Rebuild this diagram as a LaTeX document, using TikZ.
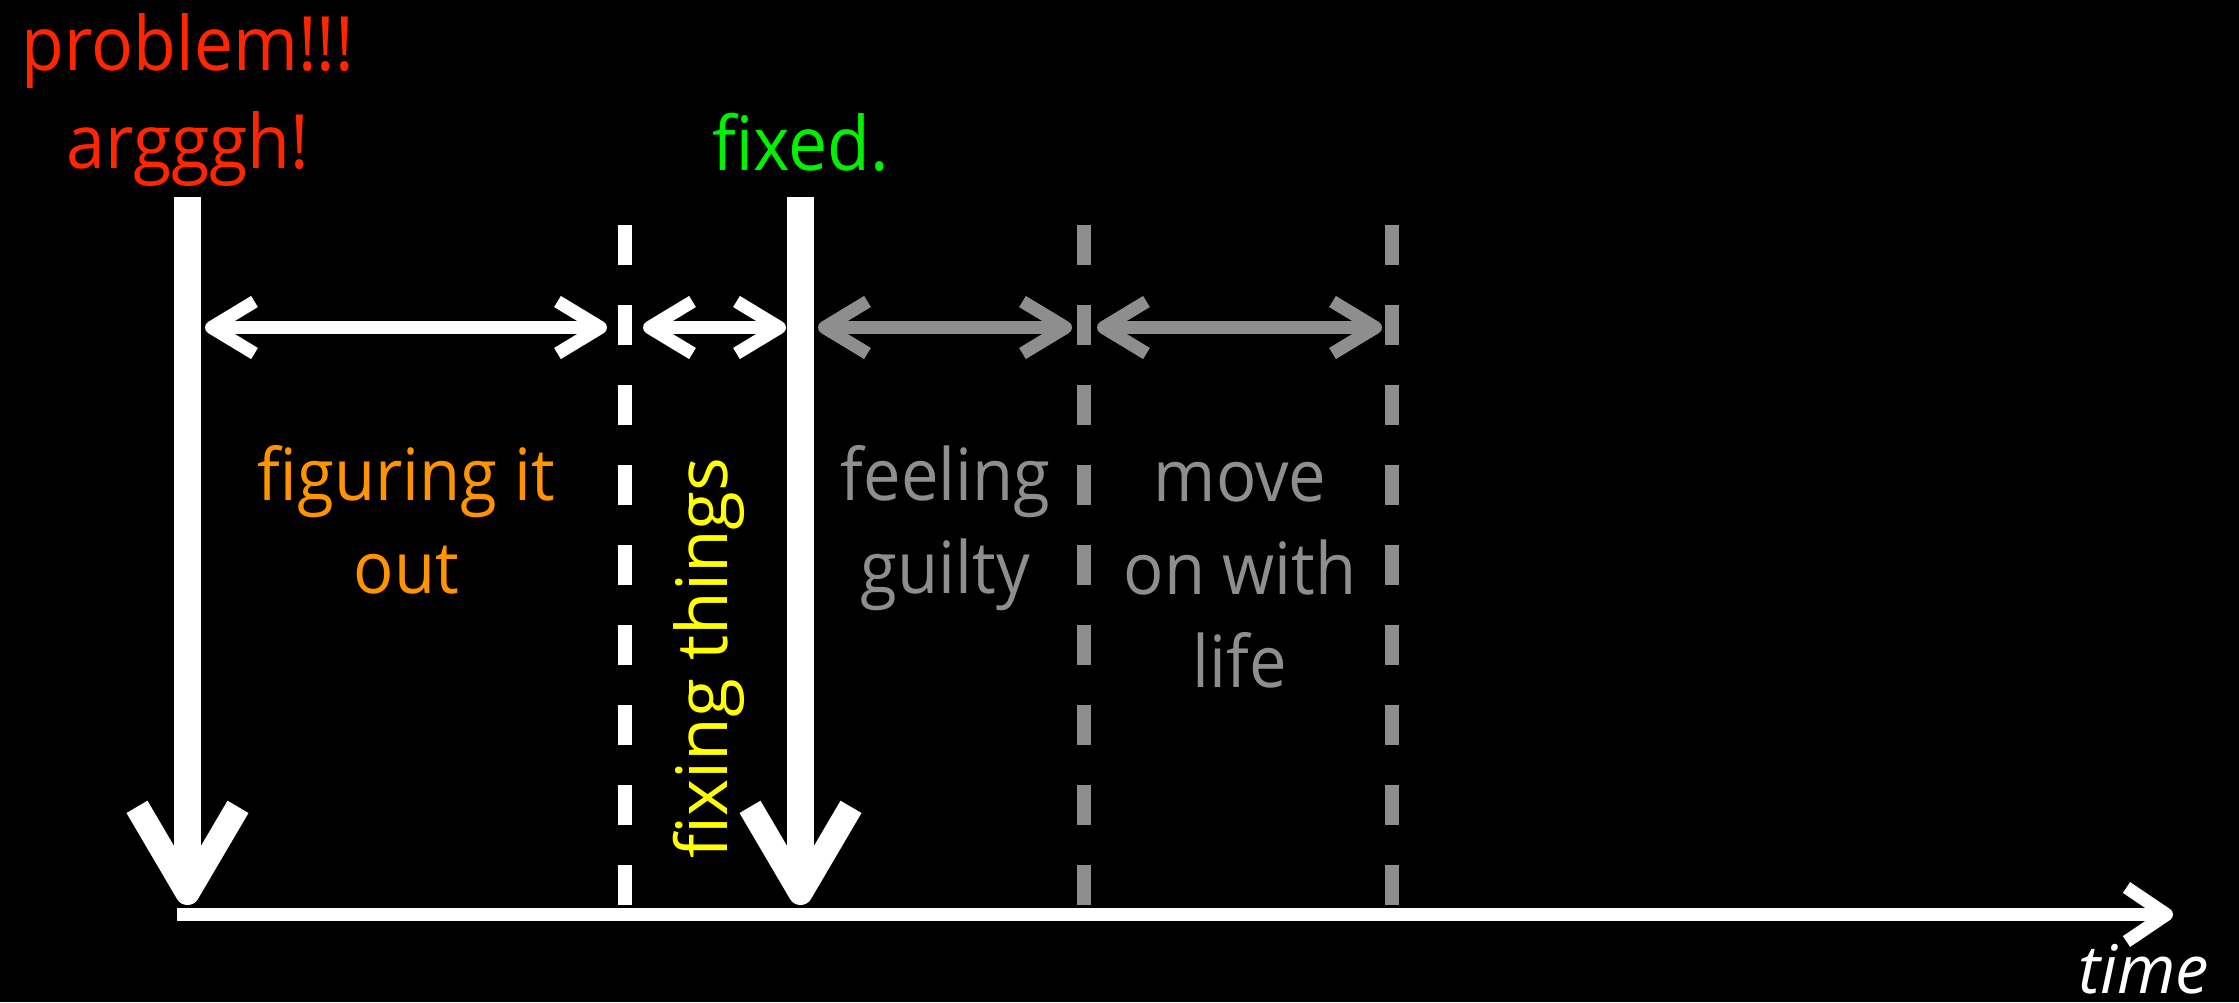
\documentclass[tikz,border=0pt]{standalone}
\usepackage{fontspec}
\setmainfont{Open Sans}
\newfontfamily\narrowfont[FakeStretch=0.93]{Open Sans}
\usetikzlibrary{arrows.meta}

\definecolor{alarmred}{HTML}{FF2600}
\definecolor{fixgreen}{HTML}{00F200}
\definecolor{phaseorange}{HTML}{FF9300}
\definecolor{phaseyellow}{HTML}{FFFF00}
\definecolor{phasegrey}{HTML}{8E8E8E}

\tikzset{
  % event bars: thick white lines ending in a wide open barb
  eventbar/.style={draw=white, line width=27pt,
    arrows={-Straight Barb[length=86pt, width=101pt, line width=0pt 0.9, line cap=butt, line join=round]}},
  % phase boundaries
  boundary/.style={line width=14pt, dash pattern=on 40pt off 40pt},
  % two-headed span arrows between boundaries
  span/.style={line width=13pt,
    arrows={Straight Barb[length=43pt, width=52pt, line cap=butt, line join=round]-Straight Barb[length=43pt, width=52pt, line cap=butt, line join=round]}},
  timeaxis/.style={draw=white, line width=13pt,
    arrows={-Straight Barb[length=40pt, width=54pt, line cap=butt, line join=round]}},
  headline/.style={inner sep=0pt, anchor=base, font=\narrowfont\fontsize{75}{90}\selectfont},
  % multi-line labels: the base anchor sits on the last line
  phase/.style={inner sep=0pt, anchor=base, align=center, font=\narrowfont\fontsize{72}{93}\selectfont},
}

\begin{document}
\begin{tikzpicture}[x=1pt, y=-1pt]
  \fill[black] (0,0) rectangle (2239,1002);
  \useasboundingbox (0,0) rectangle (2239,1002);

  % reference points
  \coordinate (probtop) at (187.5,197);
  \coordinate (probbot) at (187.5,905);
  \coordinate (fixtop)  at (800.5,197);
  \coordinate (fixbot)  at (800.5,905);
  \coordinate (b1top) at (625,225);
  \coordinate (b1bot) at (625,905);
  \coordinate (b2top) at (1084,225);
  \coordinate (b2bot) at (1084,905);
  \coordinate (b3top) at (1392,225);
  \coordinate (b3bot) at (1392,905);
  \coordinate (axstart) at (177,914.5);
  \coordinate (axend)   at (2173,914.5);
  \coordinate (s1a) at (205,327.5);
  \coordinate (s1b) at (607,327.5);
  \coordinate (s2a) at (643,327.5);
  \coordinate (s2b) at (786,327.5);
  \coordinate (s3a) at (818,327.5);
  \coordinate (s3b) at (1072,327.5);
  \coordinate (s4a) at (1097,327.5);
  \coordinate (s4b) at (1382,327.5);

  % time axis
  \draw[timeaxis] (axstart) -- (axend);

  % phase boundaries
  \draw[boundary, white] (b1top) -- (b1bot);
  \draw[boundary, phasegrey] (b2top) -- (b2bot);
  \draw[boundary, phasegrey] (b3top) -- (b3bot);

  % events
  \draw[eventbar] (probtop) -- (probbot);
  \draw[eventbar] (fixtop) -- (fixbot);

  % spans
  \draw[span, white] (s1a) -- (s1b);
  \draw[span, white] (s2a) -- (s2b);
  \draw[span, phasegrey] (s3a) -- (s3b);
  \draw[span, phasegrey] (s4a) -- (s4b);

  % labels
  \node[headline, text=alarmred] (problem) at (188,70) {problem!!!};
  \node[headline, text=alarmred] (argh) at (188,168) {argggh!};
  \node[headline, text=fixgreen] (fixed) at (800.5,170) {fixed.};

  \node[phase, text=phaseorange] (figuring) at (406.5,593) {figuring it\\out};
  \node[phase, text=phasegrey] (guilty) at (945.5,593) {feeling\\guilty};
  \node[phase, text=phasegrey] (moveon) at (1240,687) {move\\on with\\life};
  \node[inner sep=0pt, anchor=base, rotate=90, text=phaseyellow,
        font=\fontsize{71}{85}\selectfont] (fixing) at (727,658) {fixing things};

  \node[inner sep=0pt, anchor=base, text=white,
        font=\itshape\fontsize{67}{80}\selectfont] (time) at (2143.5,993) {time};
\end{tikzpicture}
\end{document}
